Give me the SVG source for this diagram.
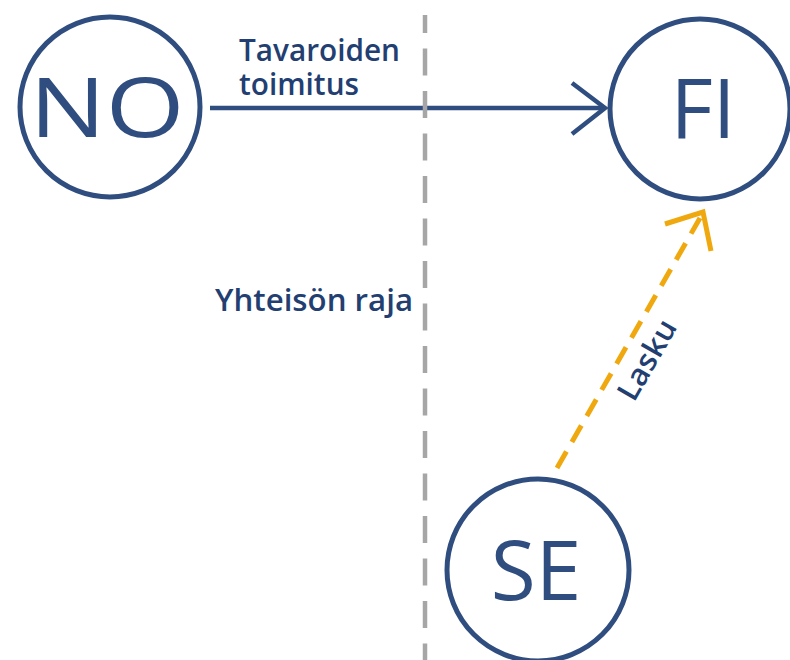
<svg xmlns="http://www.w3.org/2000/svg" width="790" height="660" viewBox="0 0 790 660">
<style>
.node{fill:#fff;stroke:#2F4D7F;stroke-width:5}
.nlbl{font-family:"Open Sans","Liberation Sans",sans-serif;font-size:82px;fill:#2F4D7F;text-anchor:middle}
.lbl{font-family:"Open Sans","Liberation Sans",sans-serif;font-size:30px;font-weight:600;fill:#233F72}
.blue{fill:none;stroke:#2F4D7F;stroke-width:4.5}
.gold{fill:none;stroke:#F0A80F;stroke-width:5}
.border{fill:none;stroke:#A6A6A6;stroke-width:4.5}
</style>
<rect width="790" height="660" fill="#fff"/>
<g id="connectors">
<line class="blue" x1="210" y1="108" x2="603" y2="108"/>
<polyline class="blue" points="572,83 605,108 572,134"/>
<line class="gold" x1="557" y1="468" x2="700" y2="218" stroke-dasharray="19 11"/>
<polyline class="gold" points="665,224 703,212 711,251"/>
<text class="lbl" x="239" y="61" textLength="161" lengthAdjust="spacingAndGlyphs">Tavaroiden</text>
<text class="lbl" x="239" y="95" textLength="120" lengthAdjust="spacingAndGlyphs">toimitus</text>
<text class="lbl" text-anchor="middle" textLength="88" lengthAdjust="spacingAndGlyphs" transform="translate(656,365) rotate(-60)">Lasku</text>
</g>
<g id="border">
<line class="border" x1="425" y1="15" x2="425" y2="660" stroke-dasharray="27 15.5" stroke-dashoffset="9"/>
<text class="lbl" x="215" y="311" textLength="198" lengthAdjust="spacingAndGlyphs">Yhteisön raja</text>
</g>
<g id="node-NO">
<circle class="node" cx="110" cy="107" r="90"/>
<text class="nlbl" x="107" y="137" textLength="155" lengthAdjust="spacingAndGlyphs">NO</text>
</g>
<g id="node-FI">
<circle class="node" cx="700" cy="109" r="90"/>
<text class="nlbl" x="703" y="138">FI</text>
</g>
<g id="node-SE">
<circle class="node" cx="538" cy="570" r="91"/>
<text class="nlbl" x="536" y="600">SE</text>
</g>
</svg>
